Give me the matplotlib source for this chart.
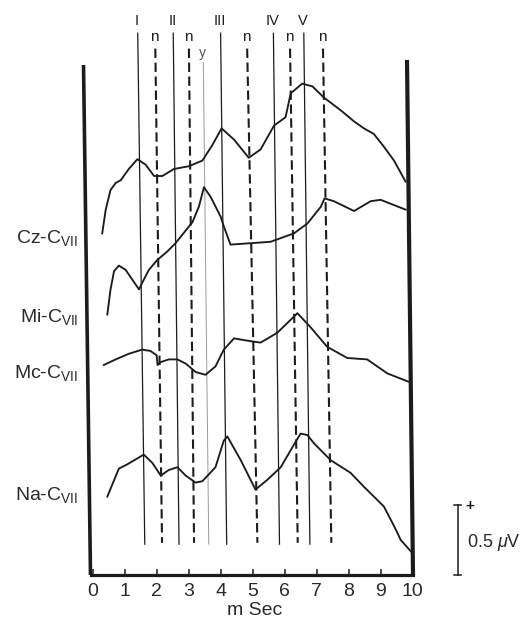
import matplotlib
matplotlib.use("Agg")
import matplotlib.pyplot as plt

plt.rcParams["font.family"] = ["Liberation Sans", "DejaVu Sans"]
plt.rcParams["mathtext.fontset"] = "custom"
plt.rcParams["mathtext.rm"] = "Liberation Sans"
plt.rcParams["mathtext.it"] = "Liberation Sans:italic"

# ---- data: time in ms, traces stacked on a common μV scale ----
ms_ticks = [0, 1, 2, 3, 4, 5, 6, 7, 8, 9, 10]
ms_tick_labels = ["0", "1", "2", "3", "4", "5", "6", "7", "8", "9", "10"]

cz_t = [0.30, 0.41, 0.56, 0.72, 0.88, 1.13, 1.40, 1.66, 1.92, 2.18, 2.54, 3.01, 3.43,
        3.74, 4.03, 4.42, 4.88, 5.25, 5.67, 6.03, 6.19, 6.55, 6.87, 7.23, 7.75, 8.17,
        8.48, 8.79, 9.10, 9.42, 9.78]
cz_v = [2.44, 2.61, 2.75, 2.80, 2.82, 2.90, 2.97, 2.93, 2.85, 2.85, 2.90, 2.92, 2.96,
        3.07, 3.19, 3.11, 2.98, 3.04, 3.21, 3.27, 3.44, 3.51, 3.49, 3.41, 3.32, 3.24,
        3.19, 3.15, 3.06, 2.96, 2.81]

mi_t = [0.46, 0.56, 0.67, 0.82, 1.03, 1.24, 1.45, 1.60, 1.76, 2.02, 2.33, 2.59, 3.12,
        3.32, 3.48, 3.69, 4.00, 4.10, 4.31, 4.94, 5.56, 6.29, 6.71, 7.13, 7.25, 7.54,
        8.17, 8.69, 9.00, 9.78]
mi_v = [1.86, 2.04, 2.17, 2.21, 2.18, 2.11, 2.04, 2.11, 2.18, 2.25, 2.31, 2.37, 2.52,
        2.63, 2.77, 2.70, 2.56, 2.49, 2.36, 2.37, 2.38, 2.44, 2.51, 2.63, 2.69, 2.67,
        2.60, 2.67, 2.68, 2.61]

mc_t = [0.35, 0.72, 1.13, 1.55, 1.81, 2.00, 2.03, 2.12, 2.38, 2.65, 2.91, 3.22, 3.53,
        3.84, 4.10, 4.42, 4.94, 5.25, 5.77, 6.40, 6.81, 7.33, 7.96, 8.58, 9.21, 9.88]
mc_v = [1.50, 1.54, 1.58, 1.61, 1.60, 1.57, 1.50, 1.52, 1.54, 1.54, 1.51, 1.45, 1.43,
        1.49, 1.61, 1.69, 1.67, 1.66, 1.73, 1.87, 1.77, 1.63, 1.55, 1.54, 1.44, 1.38]

na_t = [0.46, 0.82, 1.08, 1.60, 1.87, 2.13, 2.38, 2.65, 2.91, 3.22, 3.43, 3.84, 4.10,
        4.21, 4.63, 5.09, 5.46, 5.88, 6.34, 6.50, 6.71, 6.92, 7.44, 8.06, 8.48, 9.10,
        9.42, 9.63, 9.94]
na_v = [0.56, 0.76, 0.79, 0.86, 0.80, 0.71, 0.75, 0.77, 0.71, 0.66, 0.67, 0.77, 0.96,
        0.99, 0.82, 0.61, 0.68, 0.77, 0.95, 1.01, 1.00, 0.94, 0.82, 0.73, 0.63, 0.49,
        0.35, 0.25, 0.17]

trace_names = [r"Cz-C$_{\mathrm{VII}}$", r"Mi-C$_{\mathrm{VII}}$",
               r"Mc-C$_{\mathrm{VII}}$", r"Na-C$_{\mathrm{VII}}$"]
trace_label_v = [2.41, 1.84, 1.44, 0.57]

# wave markers (latency lines): label, kind, position at top / bottom of the line
wave_labels = ["I", "n", "II", "n", "y", "III", "n", "IV", "n", "V", "n"]
wave_kinds = ["peak", "neg", "peak", "neg", "y", "peak", "neg", "peak", "neg", "peak", "neg"]
wave_top_ms = [1.41, 1.96, 2.52, 3.01, 3.46, 4.00, 4.83, 5.65, 6.17, 6.60, 7.20]
wave_bot_ms = [1.63, 2.17, 2.70, 3.17, 3.63, 4.19, 5.15, 5.84, 6.41, 6.79, 7.46]

scale_uv = 0.5

# ---- figure ----
W, H = 521, 626
fig = plt.figure(figsize=(W / 100, H / 100), dpi=100)
fig.patch.set_facecolor("white")
ax = fig.add_axes([90.5 / W, (H - 575) / H, (413 - 90.5) / W, 515 / H])
ax.set_xlim(-0.066, 10.0125)
ax.set_ylim(0, 515 / 140)
ax.set_facecolor("none")

ink = "#1c1c1c"

# frame: thick bottom axis and two side bars
for s in ["top", "left", "right"]:
    ax.spines[s].set_visible(False)
ax.spines["bottom"].set_linewidth(2.3)
ax.spines["bottom"].set_color(ink)
ax.plot([-0.066, -0.284], [0, 3.643], color=ink, lw=2.6, solid_capstyle="butt", clip_on=False)
ax.plot([10.0125, 9.825], [0, 3.679], color=ink, lw=3.0, solid_capstyle="butt", clip_on=False)

ax.set_xticks(ms_ticks)
ax.set_xticklabels(ms_tick_labels)
ax.tick_params(axis="x", direction="in", length=4, width=1.1, color=ink,
               pad=6, labelsize=14, labelcolor="#2a2a2a")
ax.set_yticks([])
ax.set_xlabel("m Sec", fontsize=14, color="#2a2a2a", labelpad=2)
ax.xaxis.set_label_coords(0.51, -0.052)

# latency lines
for lab, kind, xt, xb in zip(wave_labels, wave_kinds, wave_top_ms, wave_bot_ms):
    if kind == "peak":
        ax.plot([xt, xb], [3.87, 0.22], color=ink, lw=0.9, clip_on=False)
        ax.text(xt - 0.02, 3.96, lab, ha="center", va="center", fontsize=10.5, color=ink)
    elif kind == "neg":
        ax.plot([xt, xb], [3.76, 0.23], color=ink, lw=1.5, dashes=(4.5, 2.2), clip_on=False)
        ax.text(xt - 0.02, 3.845, lab, ha="center", va="center", fontsize=11, color=ink)
    else:
        ax.plot([xt, xb], [3.66, 0.22], color="#9a9a9a", lw=0.7, clip_on=False)
        ax.text(xt - 0.02, 3.73, lab, ha="center", va="center", fontsize=10, color="#555555")

# evoked potential traces
for t, v in [(cz_t, cz_v), (mi_t, mi_v), (mc_t, mc_v), (na_t, na_v)]:
    ax.plot(t, v, color=ink, lw=1.35, solid_joinstyle="round", clip_on=False)

for name, yv in zip(trace_names, trace_label_v):
    ax.text(-0.45, yv, name, ha="right", va="center", fontsize=14, color="#2a2a2a")

# amplitude calibration bar
bx = 11.41
ax.plot([bx, bx], [0, scale_uv], color=ink, lw=1.1, clip_on=False)
ax.plot([bx - 0.11, bx + 0.11], [scale_uv, scale_uv], color=ink, lw=1.1, clip_on=False)
ax.plot([bx - 0.11, bx + 0.11], [0, 0], color=ink, lw=1.1, clip_on=False)
ax.text(bx + 0.38, scale_uv - 0.01, "+", ha="center", va="center", fontsize=11,
        fontweight="bold", color=ink)
ax.text(bx + 0.3, 0.23, r"0.5 $\mu$V", ha="left", va="center", fontsize=13, color="#2a2a2a")

fig.savefig("out.png", dpi=100, facecolor="white")
